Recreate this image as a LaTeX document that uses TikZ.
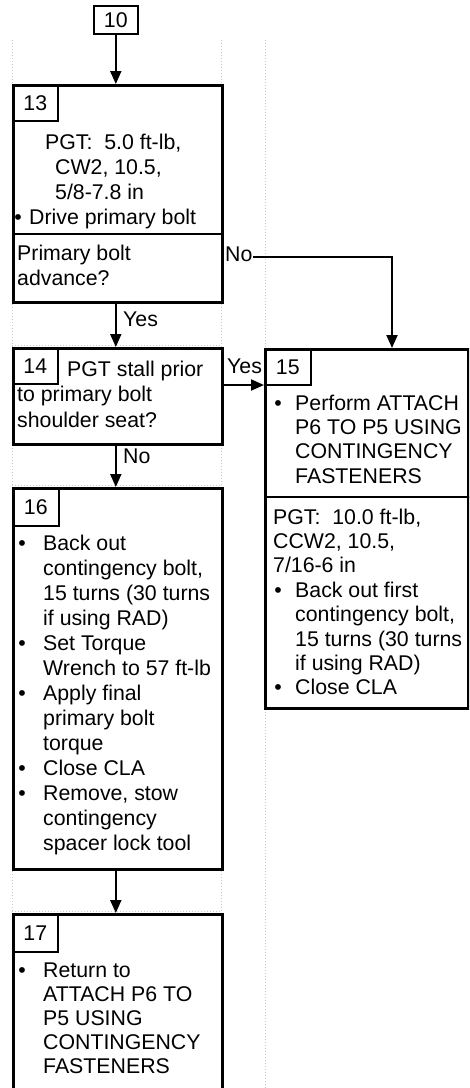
\documentclass[tikz,border=0pt]{standalone}
\usepackage{fontspec}
\setmainfont{Liberation Sans}
\usetikzlibrary{arrows.meta}
\definecolor{guidegray}{RGB}{200,200,215}
\newcommand\myfs{\fontsize{21.3}{25}\selectfont}
\newcommand\myfsb{\fontsize{21.3}{24.4}\selectfont}
\newcommand\myfsc{\fontsize{21.3}{24}\selectfont}
\tikzset{
  box/.style={draw, line width=2.6pt, anchor=north west, inner sep=0pt},
  lbl/.style={draw, line width=1.6pt, anchor=north west, inner sep=0pt, font=\myfs},
  txt/.style={anchor=base west, inner sep=0pt, align=left, font=\myfs},
  txtb/.style={txt, font=\myfsb},
  txtc/.style={txt, font=\myfsc},
  bul/.style={anchor=base, inner sep=0pt, font=\myfs},
  elab/.style={anchor=base west, inner sep=0pt, font=\myfs},
  arr/.style={line width=2pt, -{Triangle[length=13pt,width=11pt]}},
  guide/.style={dotted, line width=1pt, color=guidegray},
}
\begin{document}
\begin{tikzpicture}[x=1pt,y=-1pt]
\useasboundingbox (0,0) rectangle (469,1088);
\clip (0,0) rectangle (469,1088);
% guide lines
\foreach \gx in {12,221,265} \draw[guide] (\gx,40) -- (\gx,1088);
\foreach \gy in {302,345,445,485,870,911} \draw[guide] (12,\gy) -- (221,\gy);
% boxes
\node[lbl, minimum width=44, minimum height=28] (b10) at (93,5) {10};
\node[box, minimum width=209, minimum height=217] (b13) at (12,84) {};
\node[box, minimum width=209, minimum height=96] (b14) at (12,347) {};
\node[box, minimum width=203, minimum height=359] (b15) at (264,348) {};
\node[box, minimum width=209, minimum height=381] (b16) at (12,487) {};
\node[box, minimum width=209, minimum height=200] (b17) at (12,913) {};
% dividers
\coordinate (d13) at (12,234);
\draw[line width=2.6pt] (d13) -- (d13 -| b13.east);
\coordinate (d15) at (264,497);
\draw[line width=2.6pt] (d15) -- (d15 -| b15.east);
% labels
\node[lbl, minimum width=45, minimum height=36] (l13) at (12,84) {13};
\node[lbl, minimum width=45, minimum height=36] (l14) at (12,347) {14};
\node[lbl, minimum width=46, minimum height=36] (l15) at (264,348) {15};
\node[lbl, minimum width=46, minimum height=38] (l16) at (12,487) {16};
\node[lbl, minimum width=45, minimum height=38] (l17) at (12,913) {17};
% box 13 text (multi-line nodes are placed by their last baseline)
\node[txt] (t13a) at (45,149) {PGT:\ \ 5.0 ft-lb,};
\node[txt] (t13b) at (55,174) {CW2, 10.5,};
\node[txt] (t13c) at (55,199) {5/8-7.8 in};
\node[bul] (u13) at (18,224) {•};
\node[txt] (t13d) at (29,224) {Drive primary bolt};
\node[txt] (t13e) at (17,285) {Primary bolt\\advance?};
% box 14 text
\node[txt] (t14a) at (67,376) {PGT stall prior};
\node[txt] (t14b) at (17,401.5) {to primary bolt};
\node[txt] (t14c) at (17,427) {shoulder seat?};
% box 15 text
\node[bul] (u15a) at (278,410) {•};
\node[txtb] (t15a) at (295,483.2) {Perform ATTACH\\P6 TO P5 USING\\CONTINGENCY\\FASTENERS};
\node[txtb] (t15b) at (273,572.8) {PGT:\ \ 10.0 ft-lb,\\CCW2, 10.5,\\7/16-6 in};
\node[bul] (u15b) at (278,597.2) {•};
\node[txtb] (t15c) at (295,670.4) {Back out first\\contingency bolt,\\15 turns (30 turns\\if using RAD)};
\node[bul] (u15c) at (278,694.8) {•};
\node[txtb] (t15d) at (295,694.8) {Close CLA};
% box 16 text
\node[bul] (u16a) at (22,550) {•};
\node[txt] (t16a) at (43,625) {Back out\\contingency bolt,\\15 turns (30 turns\\if using RAD)};
\node[bul] (u16b) at (22,650) {•};
\node[txt] (t16b) at (43,675) {Set Torque\\Wrench to 57 ft-lb};
\node[bul] (u16c) at (22,700) {•};
\node[txt] (t16c) at (43,750) {Apply final\\primary bolt\\torque};
\node[bul] (u16d) at (22,775) {•};
\node[txt] (t16d) at (43,775) {Close CLA};
\node[bul] (u16e) at (22,800) {•};
\node[txt] (t16e) at (43,850) {Remove, stow\\contingency\\spacer lock tool};
% box 17 text
\node[bul] (u17) at (22,977) {•};
\node[txtc] (t17) at (43,1073) {Return to\\ATTACH P6 TO\\P5 USING\\CONTINGENCY\\FASTENERS};
% connectors
\coordinate (c13no) at (221,257);
\coordinate (c15in) at (392,348);
\coordinate (c14yes) at (221,385);
\draw[arr] (b10.south) -- (b10.south |- b13.north);
\draw[arr] (b10.south |- b13.south) -- (b10.south |- b14.north);
\draw[arr] (c13no) -| (c15in);
\draw[arr] (c14yes) -- (c14yes -| b15.west);
\draw[arr] (b10.south |- b14.south) -- (b10.south |- b16.north);
\draw[arr] (b10.south |- b16.south) -- (b10.south |- b17.north);
% edge labels
\node[elab, fill=white, inner xsep=1pt] (eno1) at (224,261) {No};
\node[elab] (eyes1) at (123,326) {Yes};
\node[elab] (eyes2) at (227,373) {Yes};
\node[elab] (eno2) at (123,463) {No};
\end{tikzpicture}
\end{document}
